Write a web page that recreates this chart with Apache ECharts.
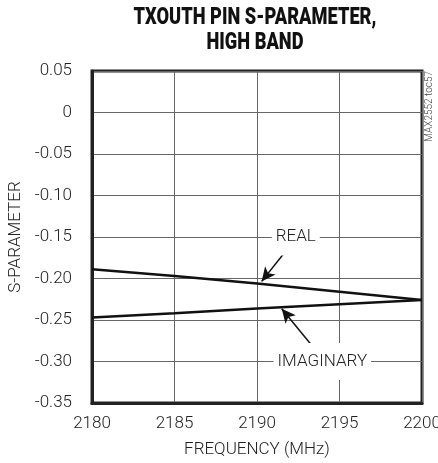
<!DOCTYPE html>
<html><head><meta charset="utf-8">
<script src="https://cdn.jsdelivr.net/npm/echarts@6/dist/echarts.min.js"></script>
<style>html,body{margin:0;padding:0;background:#fff}#c{width:438px;height:463px}</style>
</head><body><div id="c"></div>
<script>
const freq = [2180, 2185, 2190, 2195, 2200];
const realVals = [-0.189, -0.197, -0.206, -0.216, -0.226];
const imagVals = [-0.247, -0.242, -0.236, -0.231, -0.226];
const xTicks = [2180, 2185, 2190, 2195, 2200];
const yTicks = [0.05, 0, -0.05, -0.10, -0.15, -0.20, -0.25, -0.30, -0.35];
const realLabelAt = [2192.35, -0.15];
const imagLabelAt = [2193.96, -0.30];
const realArrow = [[2191.7, -0.168], [2190.28, -0.2035]];
const imagArrow = [[2193.3, -0.280], [2191.5, -0.2365]];

const FONT = 'Roboto, "DejaVu Sans Condensed", sans-serif';
const TFONT = 'Roboto, "DejaVu Sans", sans-serif';
const chart = echarts.init(document.getElementById('c'), null, {renderer: 'canvas'});
const arrowLine = (a) => ({
  symbol: ['none', 'arrow'], symbolSize: [10, 14], silent: true, animation: false,
  label: {show: false}, lineStyle: {color: '#111', width: 1.5, type: 'solid'},
  data: [[{coord: a[0]}, {coord: a[1]}]]
});
const textPoint = (pos, txt) => ({
  symbol: 'rect', symbolSize: 1, itemStyle: {color: 'rgba(0,0,0,0)'}, silent: true, animation: false,
  label: {show: true, position: 'inside', formatter: txt, color: '#222', fontFamily: FONT, fontWeight: 300, fontSize: 17,
    backgroundColor: '#fff', padding: [10, 4]},
  data: [{coord: pos}]
});
chart.setOption({
  animation: false,
  grid: {left: 92, right: 16, top: 71, bottom: 60, show: true, borderColor: '#222', borderWidth: 3,
    backgroundColor: 'transparent', outerBoundsMode: 'none', containLabel: false},
  xAxis: {
    type: 'value', min: xTicks[0], max: xTicks[xTicks.length - 1], interval: 5,
    name: 'FREQUENCY (MHz)', nameLocation: 'middle', nameGap: 38,
    nameTextStyle: {fontFamily: FONT, fontWeight: 300, fontSize: 17, color: '#222'},
    axisLine: {show: true, onZero: false, lineStyle: {color: '#222', width: 3}},
    axisTick: {show: false},
    axisLabel: {fontFamily: FONT, fontWeight: 300, fontSize: 17, color: '#222', margin: 12, formatter: v => String(v)},
    splitLine: {show: true, lineStyle: {color: '#666', width: 1}}
  },
  yAxis: {
    type: 'value', min: yTicks[yTicks.length - 1], max: yTicks[0], interval: 0.05,
    name: 'S-PARAMETER', nameLocation: 'middle', nameGap: 67, nameRotate: 90,
    nameTextStyle: {fontFamily: FONT, fontWeight: 300, fontSize: 17, color: '#222'},
    axisLine: {show: true, onZero: false, lineStyle: {color: '#222', width: 3}},
    axisTick: {show: false},
    axisLabel: {fontFamily: FONT, fontWeight: 300, fontSize: 17, color: '#222', margin: 20,
      formatter: v => Math.abs(v) < 1e-9 ? '0' : v.toFixed(2)},
    splitLine: {show: true, lineStyle: {color: '#666', width: 1}}
  },
  graphic: [{
    type: 'text', x: 255, y: 5, scaleX: 0.76, scaleY: 1, silent: true,
    style: {text: 'TXOUTH PIN S-PARAMETER,\nHIGH BAND', textAlign: 'center', textVerticalAlign: 'top',
      fontFamily: TFONT, fontWeight: 900, fontSize: 24, lineHeight: 25, fill: '#111'}
  }, {
    type: 'text', left: 424, top: 71, rotation: Math.PI / 2, silent: true,
    style: {text: 'MAX2552 toc57', fontFamily: FONT, fontWeight: 300, fontSize: 10, fill: '#444'}
  }],
  series: [
    {type: 'line', name: 'REAL', data: freq.map((f, i) => [f, realVals[i]]), showSymbol: false,
     lineStyle: {color: '#111', width: 2.5}, z: 3, markLine: arrowLine(realArrow), markPoint: textPoint(realLabelAt, 'REAL')},
    {type: 'line', name: 'IMAGINARY', data: freq.map((f, i) => [f, imagVals[i]]), showSymbol: false,
     lineStyle: {color: '#111', width: 2.5}, z: 3, markLine: arrowLine(imagArrow), markPoint: textPoint(imagLabelAt, 'IMAGINARY')}
  ]
});
</script></body></html>
